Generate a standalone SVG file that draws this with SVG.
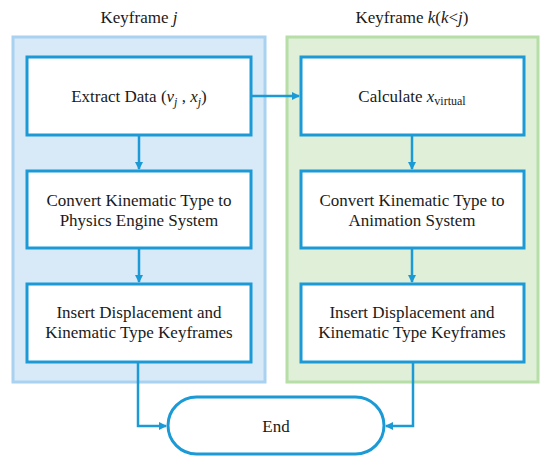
<svg xmlns="http://www.w3.org/2000/svg" width="550" height="462" viewBox="0 0 550 462">
<style>
text{font-family:'Liberation Serif','Times New Roman',Times,'DejaVu Serif',serif;font-size:17px;fill:#1a1a1a;text-anchor:middle}
.box{fill:#fff;stroke:#1b9ad6;stroke-width:3}
.con{fill:none;stroke:#1b9ad6;stroke-width:2.5}
.it{font-style:italic}
</style>
<defs>
<marker id="ah" markerWidth="8" markerHeight="8" refX="7" refY="4" orient="auto" markerUnits="userSpaceOnUse">
<path d="M0,0 L8,4 L0,8 Z" fill="#1b9ad6"/>
</marker>
</defs>
<g id="panel-left">
<rect x="13" y="37" width="252" height="345" fill="#d8e9f7" stroke="#a8d2f0" stroke-width="3"/>
<text x="139" y="23">Keyframe <tspan class="it">j</tspan></text>
</g>
<g id="panel-right">
<rect x="287" y="37" width="251" height="345" fill="#dfefd8" stroke="#b6dea6" stroke-width="3"/>
<text x="412" y="23">Keyframe <tspan class="it">k</tspan>(<tspan class="it">k</tspan>&lt;<tspan class="it">j</tspan>)</text>
</g>
<g id="connectors">
<line class="con" x1="251" y1="96" x2="299" y2="96" marker-end="url(#ah)"/>
<line class="con" x1="139" y1="135" x2="139" y2="169" marker-end="url(#ah)"/>
<line class="con" x1="139" y1="248" x2="139" y2="282" marker-end="url(#ah)"/>
<line class="con" x1="412" y1="135" x2="412" y2="169" marker-end="url(#ah)"/>
<line class="con" x1="412" y1="248" x2="412" y2="282" marker-end="url(#ah)"/>
<polyline class="con" points="138,362 138,426 166,426" marker-end="url(#ah)"/>
<polyline class="con" points="413,362 413,426 386,426" marker-end="url(#ah)"/>
</g>
<g id="extract">
<rect class="box" x="27" y="57" width="224" height="78"/>
<text x="139" y="102">Extract Data (<tspan class="it">v</tspan><tspan class="it" font-size="12" dy="4">j</tspan><tspan dy="-4"> , </tspan><tspan class="it">x</tspan><tspan class="it" font-size="12" dy="4">j</tspan><tspan dy="-4">)</tspan></text>
</g>
<g id="convert-physics">
<rect class="box" x="27" y="171" width="224" height="77"/>
<text x="139" y="206">Convert Kinematic Type to</text>
<text x="139" y="226">Physics Engine System</text>
</g>
<g id="insert-left">
<rect class="box" x="27" y="284" width="224" height="78"/>
<text x="139" y="318">Insert Displacement and</text>
<text x="139" y="338">Kinematic Type Keyframes</text>
</g>
<g id="calculate">
<rect class="box" x="301" y="57" width="223" height="78"/>
<text x="412" y="102">Calculate <tspan class="it">x</tspan><tspan font-size="12" dy="3">virtual</tspan></text>
</g>
<g id="convert-animation">
<rect class="box" x="301" y="171" width="223" height="77"/>
<text x="412" y="206">Convert Kinematic Type to</text>
<text x="412" y="226">Animation System</text>
</g>
<g id="insert-right">
<rect class="box" x="301" y="284" width="223" height="78"/>
<text x="412" y="318">Insert Displacement and</text>
<text x="412" y="338">Kinematic Type Keyframes</text>
</g>
<g id="end">
<rect class="box" x="168" y="397" width="216" height="57" rx="28.5"/>
<text x="276" y="432">End</text>
</g>
</svg>
